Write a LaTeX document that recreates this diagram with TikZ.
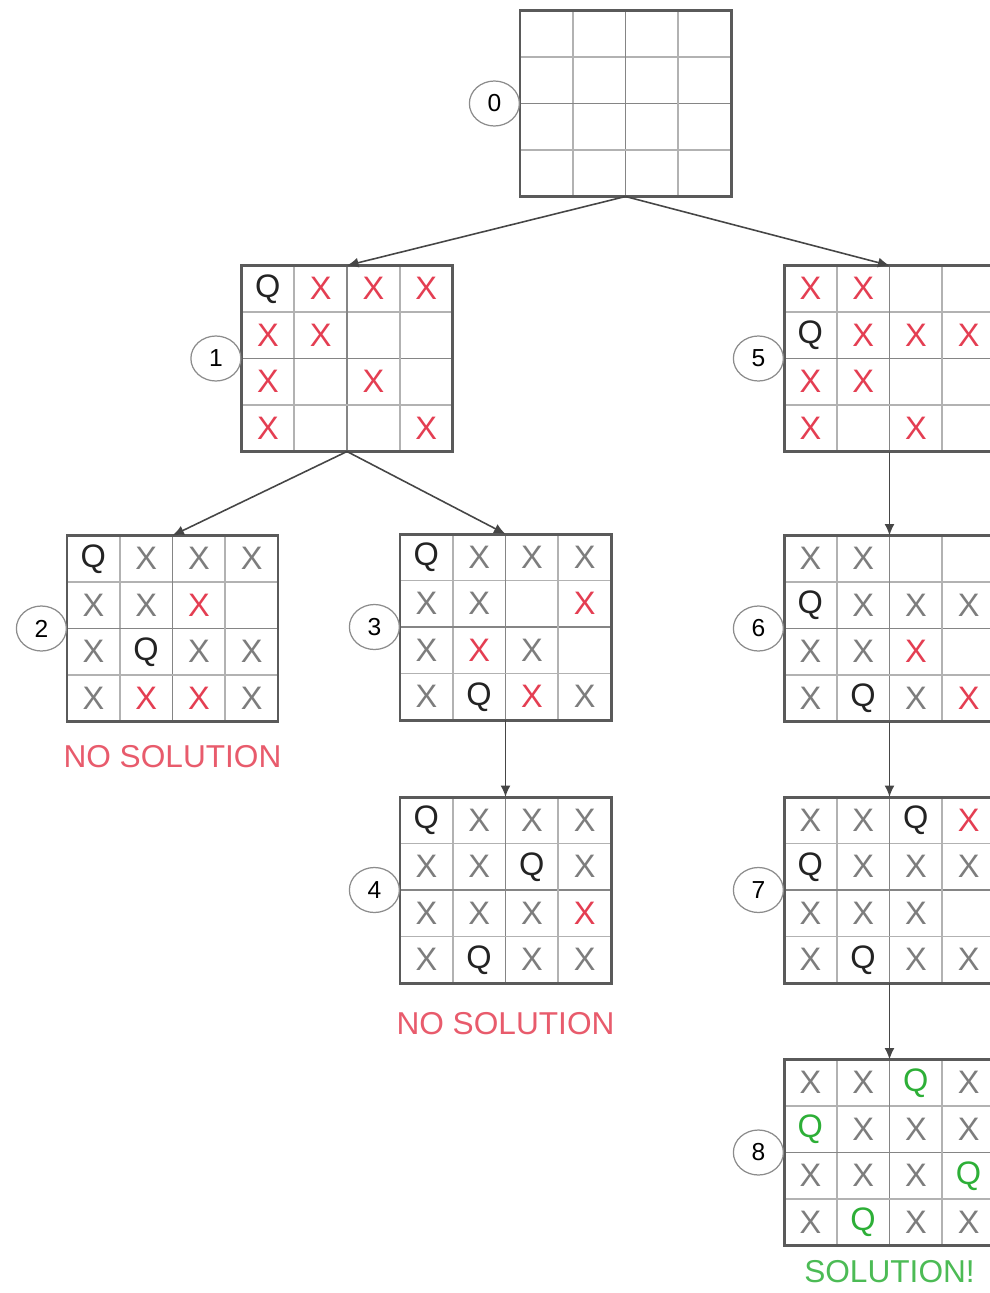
\documentclass[tikz,border=0pt]{standalone}
\usepackage{fontspec}
\setmainfont{Liberation Sans}
\usetikzlibrary{arrows.meta,positioning,shapes.geometric,calc}
\definecolor{qk}{RGB}{35,35,35}
\definecolor{qg}{RGB}{45,175,55}
\definecolor{xg}{RGB}{125,125,125}
\definecolor{xr}{RGB}{228,62,82}
\definecolor{framegray}{RGB}{90,90,90}
\definecolor{arrowgray}{RGB}{70,70,70}

\begin{document}
\begin{tikzpicture}[
  board/.style={draw=framegray,line width=1.7pt,fill=white,minimum width=4.22cm,minimum height=3.72cm,inner sep=0pt,outer sep=0pt},
  cellline/.style={line width=1pt,shorten <=0.85pt,shorten >=0.85pt},
  num/.style={draw=gray!90,ellipse,line width=0.7pt,fill=white,minimum width=1cm,minimum height=0.9cm,inner sep=0pt,font=\fontsize{14}{14}\selectfont},
  cellmark/.style={inner sep=0pt,font=\fontsize{18.5}{18.5}\selectfont},
  link/.style={draw=arrowgray,line width=0.9pt,-{Latex[length=2.3mm,width=2mm]}},
  verdict/.style={inner sep=0pt,font=\fontsize{18}{18}\selectfont}]
  \useasboundingbox (0,0) rectangle (19.8,-25.86);
  \clip (0,0) rectangle (19.8,-25.86);
  % Boards: 4x4 grid and step number
  \foreach \b/\x/\y in {0/12.51/-2.07, 1/6.94/-7.17, 5/17.79/-7.17, 2/3.45/-12.57, 3/10.11/-12.54,
                        6/17.79/-12.57, 4/10.11/-17.80, 7/17.79/-17.80, 8/17.79/-23.05}{
    \node[board] (b\b) at (\x,\y) {};
    \foreach \i in {1,2,3}{
      \pgfmathtruncatemacro{\tone}{\i==2 ? 48 : 30}
      \draw[cellline,black!\tone] ($(b\b.north west)!\i/4!(b\b.north east)$) -- ($(b\b.south west)!\i/4!(b\b.south east)$);
      \draw[cellline,black!\tone] ($(b\b.north west)!\i/4!(b\b.south west)$) -- ($(b\b.north east)!\i/4!(b\b.south east)$);
    }
    \draw[framegray,line width=1.7pt] (b\b.south west) rectangle (b\b.north east);
    \node[num, left=0pt of b\b] (n\b) {\b};
  }
  % Cell marks, row by row (letter/colour)
  \foreach \b/\cells in {
    1/{{Q/qk,X/xr,X/xr,X/xr},{X/xr,X/xr,/xr,/xr},{X/xr,/xr,X/xr,/xr},{X/xr,/xr,/xr,X/xr}},
    2/{{Q/qk,X/xg,X/xg,X/xg},{X/xg,X/xg,X/xr,/xg},{X/xg,Q/qk,X/xg,X/xg},{X/xg,X/xr,X/xr,X/xg}},
    3/{{Q/qk,X/xg,X/xg,X/xg},{X/xg,X/xg,/xg,X/xr},{X/xg,X/xr,X/xg,/xg},{X/xg,Q/qk,X/xr,X/xg}},
    4/{{Q/qk,X/xg,X/xg,X/xg},{X/xg,X/xg,Q/qk,X/xg},{X/xg,X/xg,X/xg,X/xr},{X/xg,Q/qk,X/xg,X/xg}},
    5/{{X/xr,X/xr,/xr,/xr},{Q/qk,X/xr,X/xr,X/xr},{X/xr,X/xr,/xr,/xr},{X/xr,/xr,X/xr,/xr}},
    6/{{X/xg,X/xg,/xg,/xg},{Q/qk,X/xg,X/xg,X/xg},{X/xg,X/xg,X/xr,/xg},{X/xg,Q/qk,X/xg,X/xr}},
    7/{{X/xg,X/xg,Q/qk,X/xr},{Q/qk,X/xg,X/xg,X/xg},{X/xg,X/xg,X/xg,/xg},{X/xg,Q/qk,X/xg,X/xg}},
    8/{{X/xg,X/xg,Q/qg,X/xg},{Q/qg,X/xg,X/xg,X/xg},{X/xg,X/xg,X/xg,Q/qg},{X/xg,Q/qg,X/xg,X/xg}}}{
    \foreach \row [count=\r] in \cells
      \foreach \m/\k [count=\c] in \row
        \node[cellmark,text=\k] at ($(b\b.center)+(\c*1.055-2.6375,2.325-\r*0.93)$) {\m};
  }
  % Search tree
  \draw[link] (b0.south) -- (b1.north);
  \draw[link] (b0.south) -- (b5.north);
  \draw[link] (b1.south) -- (b2.north);
  \draw[link] (b1.south) -- (b3.north);
  \draw[link] (b3.south) -- (b4.north);
  \draw[link] (b5.south) -- (b6.north);
  \draw[link] (b6.south) -- (b7.north);
  \draw[link] (b7.south) -- (b8.north);
  % Outcomes
  \node[verdict,text=xr!85!white,below=0.48cm of b2] (t2) {NO SOLUTION};
  \node[verdict,text=xr!85!white,below=0.58cm of b4] (t4) {NO SOLUTION};
  \node[verdict,text=qg!85!white,below=0.3cm of b8] (t8) {SOLUTION!};
\end{tikzpicture}
\end{document}
